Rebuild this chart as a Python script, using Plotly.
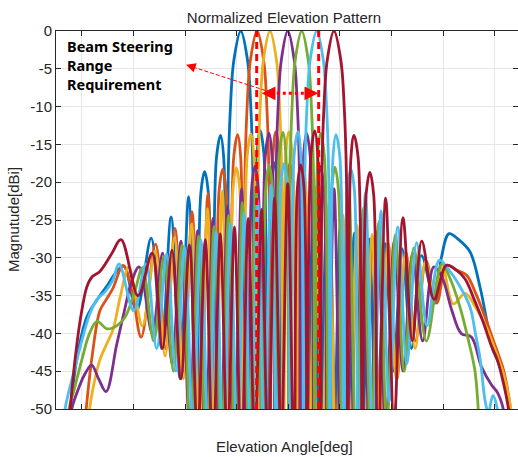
import plotly.graph_objects as go

# ---------------- data ----------------
blue_deg = [-87.0, -84.5, -81.5, -78.0, -74.2, -70.0, -66.5, -63.7, -58.8, -53.13, -49.11, -45.40, -41.92, -38.61, -35.45,
            -33.92, -32.41, -30.93, -29.47, -27.84, -26.22, -25.02, -23.83, -23.28, -22.46, -21.10, -18.42, -15.78, -14.48,
            -13.70, -13.18, -12.07, -10.96, -9.50, -8.05, -6.78, -5.51, -4.24, -2.98, -0.46, 2.06, 4.59, 7.12, 9.67, 12.24,
            14.83, 17.46, 20.12, 22.83, 25.59, 28.42, 31.33, 34.33, 37.45, 40.69, 44.11, 47.73, 51.63, 56.8, 59.3, 62.3,
            66.0, 70.4, 74.3, 77.0, 79.3, 81.0, 83.5, 85.9, 87.5]
blue_db = [-57, -50, -42.5, -37.8, -35.6, -33.6, -31.8, -31.1, -37.0, -27.4, -42, -24.6, -46, -21.9, -58,
           -21.6, -18.6, -21.6, -60, -16.8, -13.8, -16.8, -60, -19.2, -10.4, -3.9, 0, -3.9, -10.4,
           -19.2, -60, -16.1, -13.1, -16.1, -58, -20.4, -17.4, -20.4, -60, -20.1, -55, -22.0, -58, -23.5, -56,
           -24.8, -58, -25.8, -55, -26.7, -57, -27.5, -54, -28.1, -45, -28.8, -42, -29.7, -36, -30.0, -26.8,
           -27.6, -29.2, -33.9, -38.5, -42.2, -43.5, -46.2, -50, -56]

orange_deg = [-80.0, -78.3, -76.0, -73.0, -70.5, -67.9, -64.0, -60.5, -57.0, -51.41, -47.53, -43.92, -40.51, -37.27,
              -34.17, -31.17, -28.27, -26.84, -25.44, -24.05, -22.68, -21.14, -19.60, -18.45, -17.31, -16.79, -16.00,
              -14.69, -12.10, -9.53, -8.26, -7.49, -6.98, -5.89, -4.81, -3.36, -1.93, -0.66, 0.60, 1.86, 3.12, 5.65,
              8.19, 10.74, 13.32, 15.93, 18.57, 21.25, 23.98, 26.77, 29.63, 32.58, 35.62, 38.79, 42.10, 45.59, 49.32,
              53.36, 57.5, 61.4, 65.0, 69.1, 72.5, 76.2, 79.0, 81.2, 83.5, 86.1, 87.5]
orange_db = [-57, -50, -43, -37, -35.5, -34, -31.0, -34.5, -40.5, -28.2, -42, -26.1, -45, -23.9,
             -55, -21.5, -60, -21.3, -18.3, -21.3, -58, -16.7, -13.7, -16.7, -60, -19.2, -10.4,
             -3.9, 0, -3.9, -10.4, -19.2, -60, -16.3, -13.3, -16.3, -58, -20.5, -17.5, -20.5, -60, -20.4,
             -55, -22.4, -58, -23.9, -55, -25.3, -58, -26.4, -56, -27.4, -53, -28.3, -46, -29.3, -41,
             -30.4, -36, -31.0, -31.6, -32.3, -34.6, -37.8, -40.5, -42.6, -45.0, -50, -55]

yellow_deg = [-79.0, -77.0, -75.5, -73.0, -70.5, -67.9, -65.0, -61.8, -56.5, -51.60, -47.70, -44.08, -40.66, -37.42,
              -34.31, -31.31, -28.40, -25.57, -22.80, -21.45, -20.10, -18.76, -17.43, -15.94, -14.44, -13.33, -12.22,
              -11.70, -10.93, -9.65, -7.10, -4.57, -3.30, -2.54, -2.04, -0.96, 0.13, 1.57, 3.00, 4.27, 5.53, 6.80,
              8.07, 10.63, 13.20, 15.81, 18.45, 21.12, 23.86, 26.64, 29.50, 32.44, 35.48, 38.65, 41.95, 45.43, 49.15,
              53.17, 56.8, 59.8, 63.9, 68.5, 72.5, 76.5, 80.5, 83.5, 86.5, 88.0]
yellow_db = [-56, -50, -47, -43.5, -41.5, -39.5, -35, -31.2, -39, -29.1, -43, -27.3, -46, -25.5,
             -57, -23.5, -55, -21.2, -60, -21.1, -18.1, -21.1, -58, -16.6, -13.6, -16.6, -60,
             -19.2, -10.4, -3.9, 0, -3.9, -10.4, -19.2, -60, -16.4, -13.35, -16.4, -58, -20.7, -17.65, -20.7,
             -60, -20.6, -55, -22.6, -58, -24.25, -55, -25.7, -58, -26.9, -53, -28.0, -46, -29.25, -42,
             -30.5, -35, -31.3, -36.1, -34.7, -36.5, -39.0, -42.5, -45.5, -50.5, -56]

purple_deg = [-85.5, -83.9, -81.5, -79.0, -76.2, -73.5, -70.6, -66.5, -63.3, -61.0, -57.8, -52.7, -48.72, -45.03,
              -41.57, -38.28, -35.14, -32.11, -29.18, -26.33, -23.55, -20.83, -18.15, -15.51, -14.21, -12.91, -11.62,
              -10.34, -8.89, -7.43, -6.34, -5.25, -4.74, -3.99, -2.72, -0.20, 2.32, 3.58, 4.34, 4.85, 5.94, 7.03,
              8.48, 9.93, 11.22, 12.50, 13.80, 15.10, 17.73, 20.40, 23.11, 25.88, 28.72, 31.64, 34.65, 37.77, 41.03,
              44.47, 48.12, 52.05, 56.37, 59.5, 63.4, 67.0, 71.0, 74.8, 78.7, 81.0, 83.3, 85.0]
purple_db = [-55, -50, -47.5, -45.5, -44.2, -46.0, -47.7, -41.5, -36.7, -33.5, -31.2, -40, -29.4, -44,
             -27.8, -52, -26.4, -55, -24.8, -58, -23.1, -55, -20.9, -60, -20.9, -17.9, -20.9,
             -58, -16.5, -13.5, -16.5, -60, -19.2, -10.4, -3.9, 0, -3.9, -10.4, -19.2, -60, -16.5, -13.5,
             -16.5, -58, -20.9, -17.9, -20.9, -60, -20.9, -56, -23.1, -58, -24.8, -56, -26.4, -53, -27.8,
             -45, -29.4, -41, -31.2, -32.5, -37.0, -40.0, -40.5, -44.4, -46.8, -47.8, -50, -55]

green_deg = [-86.5, -85.0, -83.0, -80.0, -77.0, -74.1, -70.2, -66.5, -63.3, -59.5, -56.46, -52.14, -48.19, -44.54,
             -41.10, -37.84, -34.71, -31.70, -28.78, -25.94, -23.17, -20.45, -17.78, -15.15, -12.56, -9.99, -8.71,
             -7.43, -6.17, -4.90, -3.46, -2.02, -0.93, 0.15, 0.65, 1.41, 2.67, 5.20, 7.74, 9.01, 9.78, 10.29,
             11.39, 12.50, 13.98, 15.46, 16.77, 18.10, 19.43, 20.77, 23.49, 26.27, 29.12, 32.05, 35.07, 38.21,
             41.50, 44.96, 48.64, 53.5, 59.5, 63.0, 66.5, 69.5, 72.3, 73.6, 74.5]
green_db = [-55, -50, -47.5, -43.5, -40.0, -38.4, -39.4, -39.0, -37.9, -34.5, -31.3, -41, -29.8, -45,
            -28.3, -54, -27.1, -58, -25.85, -56, -24.4, -58, -22.7, -55, -20.65, -60, -20.75,
            -17.75, -20.75, -58, -16.4, -13.4, -16.4, -60, -19.2, -10.4, -3.9, 0, -3.9, -10.4, -19.2, -60,
            -16.55, -13.55, -16.55, -58, -21.05, -18.05, -21.05, -58, -21.1, -56, -23.4, -55, -25.25, -52,
            -26.95, -45, -28.7, -41, -30.8, -33.0, -36.5, -40.5, -44.9, -50, -56]

lightblue_deg = [-88.0, -86.5, -83.0, -80.0, -77.0, -74.1, -71.0, -68.0, -65.6, -59.9, -55.2, -51.0, -47.16, -43.56,
                 -40.18, -36.95, -33.86, -30.88, -27.98, -25.17, -22.41, -19.71, -17.05, -14.43, -11.84, -9.28, -6.73,
                 -4.20, -2.93, -1.67, -0.41, 0.85, 2.28, 3.73, 4.81, 5.90, 6.41, 7.17, 8.44, 11.0, 13.58, 14.88,
                 15.66, 16.19, 17.32, 18.46, 19.99, 21.52, 22.88, 24.25, 25.65, 27.05, 29.92, 32.87, 35.93, 39.10,
                 42.43, 45.95, 49.71, 53.80, 58.5, 62.0, 66.0, 70.4, 72.5, 74.3, 76.3, 77.5, 79.3, 81.0, 82.5]
lightblue_db = [-55, -50, -45, -41, -37.5, -35.5, -34.5, -33.0, -30.8, -37, -30.8, -42, -29.5, -45,
                -28.6, -52, -27.6, -55, -26.5, -58, -25.4, -56, -24.0, -58, -22.4, -55, -20.4,
                -60, -20.55, -17.55, -20.55, -58, -16.3, -13.3, -16.3, -60, -19.2, -10.4, -3.9, 0, -3.9, -10.4,
                -19.2, -60, -16.7, -13.7, -16.7, -58, -21.25, -18.25, -21.25, -60, -21.4, -55, -23.8, -49,
                -25.9, -44, -28.0, -39, -30.3, -31.5, -33.5, -36.5, -40, -43.3, -49, -50.5, -48.2, -50, -56]

darkred_deg = [-86.0, -84.5, -82.8, -80.5, -78.0, -76.0, -73.0, -68.5, -64.8, -58.2, -52.75, -48.77, -45.07, -41.61,
               -38.32, -35.17, -32.14, -29.21, -26.36, -23.58, -20.86, -18.18, -15.55, -12.94, -10.37, -7.82, -5.28,
               -2.75, -0.23, 2.29, 3.55, 4.82, 6.08, 7.35, 8.80, 10.27, 11.37, 12.47, 12.99, 13.77, 15.07, 17.70,
               20.37, 21.72, 22.53, 23.08, 24.26, 25.45, 27.07, 28.69, 30.13, 31.60, 33.09, 34.61, 37.73, 41.00,
               44.43, 48.07, 51.70, 56.5, 61.2, 65.0, 68.5, 72.0, 75.5, 78.5, 81.0, 83.3, 85.3, 86.8]
darkred_db = [-56, -50, -44, -38, -33.8, -32.5, -31.8, -29.5, -27.6, -35, -29.4, -42, -29.0, -46,
              -28.3, -54, -27.6, -57, -26.8, -55, -25.9, -58, -24.8, -56, -23.6, -58, -22.1,
              -55, -20.2, -60, -20.7, -17.7, -20.7, -58, -16.2, -13.2, -16.2, -60, -19.2, -10.4, -3.9, 0,
              -3.9, -10.4, -19.2, -60, -16.8, -13.8, -16.8, -58, -21.7, -18.7, -21.7, -60, -22.1, -52,
              -24.7, -41, -27.8, -35.5, -31.0, -31.6, -32.8, -35.5, -38.5, -41.5, -43.5, -46.5, -50, -56]

series_names = ["-18 deg", "-12 deg", "-7 deg", "0 deg", "5 deg", "11 deg", "18 deg"]
series_colors = ["#0072BD", "#D95319", "#EDB120", "#7E2F8E", "#77AC30", "#4DBEEE", "#A2142F"]

# steering-range marks
range_limits_deg = [-12.24, 11.77]
range_arrow_deg = [-10.3, 11.6]
range_arrow_db = -8.24
note_tail = [-6.7, -8.1]
note_head = [-39.6, -4.46]

y_ticks = [0, -5, -10, -15, -20, -25, -30, -35, -40, -45, -50]
y_ticktext = ["0", "-5", "-10", "-15", "-20", "-25", "-30", "-35", "-40", "-45", "-50"]
x_ticks = [-80, -60, -40, -20, 0, 20, 40, 60, 80]

# ---------------- figure ----------------
all_series = [(blue_deg, blue_db), (orange_deg, orange_db), (yellow_deg, yellow_db), (purple_deg, purple_db),
              (green_deg, green_db), (lightblue_deg, lightblue_db), (darkred_deg, darkred_db)]

fig = go.Figure()
for (xs, ys), name, col in zip(all_series, series_names, series_colors):
    assert len(xs) == len(ys), name
    fig.add_trace(go.Scatter(x=xs, y=ys, mode="lines", name=name,
                             line=dict(color=col, width=2.8, shape="spline", smoothing=1.0)))

RED = "#FF0000"
shapes = []
for xv in range_limits_deg:
    shapes.append(dict(type="line", xref="x", yref="y", x0=xv, x1=xv, y0=-50, y1=0, layer="above",
                       line=dict(color=RED, width=3, dash="7px,5px")))
shapes.append(dict(type="line", xref="x", yref="y", x0=range_arrow_deg[0] + 1.2, x1=range_arrow_deg[1] - 1.2,
                   y0=range_arrow_db, y1=range_arrow_db, layer="above",
                   line=dict(color=RED, width=3, dash="3px,3px")))
shapes.append(dict(type="line", xref="x", yref="y", x0=note_tail[0], y0=note_tail[1],
                   x1=note_head[0] + 1.2, y1=note_head[1] - 0.15, layer="above",
                   line=dict(color=RED, width=1, dash="4px,2px")))

TXT = "#262626"
FONT = "Liberation Sans, Arial, sans-serif"
annotations = [
    dict(x=range_arrow_deg[0], y=range_arrow_db, ax=range_arrow_deg[0] + 2.0, ay=range_arrow_db,
         xref="x", yref="y", axref="x", ayref="y", text="", showarrow=True,
         arrowhead=2, arrowsize=1.1, arrowwidth=2.5, arrowcolor=RED),
    dict(x=range_arrow_deg[1], y=range_arrow_db, ax=range_arrow_deg[1] - 2.0, ay=range_arrow_db,
         xref="x", yref="y", axref="x", ayref="y", text="", showarrow=True,
         arrowhead=2, arrowsize=1.1, arrowwidth=2.5, arrowcolor=RED),
    dict(x=note_head[0], y=note_head[1], ax=note_head[0] + 2.6, ay=note_head[1] - 0.3,
         xref="x", yref="y", axref="x", ayref="y", text="", showarrow=True,
         arrowhead=2, arrowsize=1.6, arrowwidth=1.2, arrowcolor=RED),
    dict(x=(65 - 56) / 462, y=1 - (34 - 30.7) / 378, xref="paper", yref="paper", xanchor="left", yanchor="top",
         align="left", showarrow=False, text="<b>Beam Steering<br>Range<br>Requirement</b>",
         font=dict(family="Noto Sans, Open Sans, sans-serif", size=14.5, color="#000000")),
    dict(x=(284 - 56) / 462, y=(408.7 - 446) / 378, xref="paper", yref="paper", xanchor="center",
         yanchor="middle", showarrow=False, text="Elevation Angle[deg]",
         font=dict(family=FONT, size=15, color=TXT)),
    dict(x=(13 - 56) / 462, y=0.5, xref="paper", yref="paper", xanchor="center", yanchor="middle",
         showarrow=False, text="Magnutude[dBi]", textangle=-90,
         font=dict(family=FONT, size=15, color=TXT)),
]

fig.update_layout(
    width=518, height=457,
    margin=dict(l=56, r=0, t=31, b=48, pad=0),
    paper_bgcolor="white", plot_bgcolor="white",
    showlegend=False,
    title=dict(text="Normalized Elevation Pattern", x=284 / 518, xanchor="center", xref="container",
               y=1 - 18 / 457, yanchor="middle", yref="container",
               font=dict(family=FONT, size=15, color=TXT)),
    shapes=shapes, annotations=annotations,
)
fig.update_xaxes(range=[-90, 89], tickvals=x_ticks, showticklabels=False, ticks="inside", ticklen=5,
                 tickcolor=TXT, showline=True, linecolor=TXT, linewidth=1, mirror="ticks",
                 showgrid=True, gridcolor="#E6E6E6", gridwidth=1, zeroline=False)
fig.update_yaxes(range=[-50, 0], tickvals=y_ticks, ticktext=y_ticktext, ticks="inside", ticklen=5,
                 tickcolor=TXT, showline=True, linecolor=TXT, linewidth=1, mirror="ticks",
                 showgrid=True, gridcolor="#E6E6E6", gridwidth=1, zeroline=False,
                 tickfont=dict(family=FONT, size=15, color=TXT))

fig.write_html("out.html", config={"displayModeBar": False})
